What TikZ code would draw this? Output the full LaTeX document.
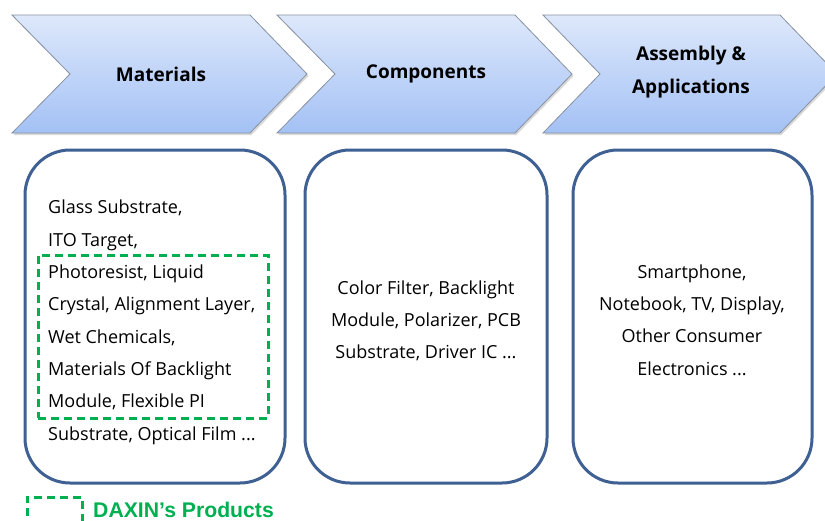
\documentclass[tikz,border=0pt]{standalone}
\usepackage{fontspec}
\setmainfont{Open Sans}
\newfontfamily\legendfont{Liberation Sans}
\usetikzlibrary{shadows}
\definecolor{boxblue}{RGB}{62,96,146}
\definecolor{daxgreen}{RGB}{0,176,80}
\definecolor{chtop}{RGB}{222,232,251}
\definecolor{chbot}{RGB}{163,193,245}
\definecolor{chedge}{RGB}{135,145,160}
\begin{document}
\begin{tikzpicture}[x=1pt,y=-1pt,
  chev/.style={draw=chedge, line width=0.8pt, top color=chtop, bottom color=chbot,
    drop shadow={opacity=0.3, shadow xshift=1.5pt, shadow yshift=-2pt}},
  title/.style={font=\fontsize{19}{33}\selectfont\bfseries, align=center, inner sep=0pt},
  roundbox/.style={draw=boxblue, line width=3pt, rounded corners=45pt, inner sep=0pt},
  body/.style={font=\fontsize{18}{32.3}\selectfont, inner sep=0pt},
  daxbox/.style={draw=daxgreen, line width=3pt, dash pattern=on 8pt off 5pt, inner sep=0pt}
]
\useasboundingbox (0,0) rectangle (825,520);
\clip (0,0) rectangle (825,520);
% chevrons
\path[chev] (12,15) -- (250,15) -- (307,74) -- (250,133) -- (12,133) -- (70,74) -- cycle;
\path[chev] (277,15) -- (515,15) -- (572,74) -- (515,133) -- (277,133) -- (335,74) -- cycle;
\path[chev] (543,15) -- (780,15) -- (837,74) -- (780,133) -- (543,133) -- (600,74) -- cycle;
\node[title] (t1) at (161,74) {Materials};
\node[title] (t2) at (426,74) {Components};
\node[title] (t3) at (691,72) {Assembly \&\\Applications};
% boxes
\node[roundbox, minimum width=260pt, minimum height=333pt] (box1) at (155,316.5) {};
\node[roundbox, minimum width=242pt, minimum height=333pt] (box2) at (426,316.5) {};
\node[roundbox, minimum width=239pt, minimum height=333pt] (box3) at (692.5,316.5) {};
\node[daxbox, minimum width=230pt, minimum height=163pt] (dax) at (153,336.5) {};
\node[body, align=left, anchor=base west] (txt1) at (48,440) {Glass Substrate,\\ITO Target,\\Photoresist, Liquid\\Crystal, Alignment Layer,\\Wet Chemicals,\\Materials Of Backlight\\Module, Flexible PI\\Substrate, Optical Film ...};
\node[body, align=center, anchor=base, font=\fontsize{18}{31.7}\selectfont] (txt2) at (426,358.3) {Color Filter, Backlight\\Module, Polarizer, PCB\\Substrate, Driver IC ...};
\node[body, align=center, anchor=base] (txt3) at (692,375) {Smartphone,\\Notebook, TV, Display,\\Other Consumer\\Electronics ...};
% legend
\node[daxbox, minimum width=55pt, minimum height=48pt] (legbox) at (54.5,521) {};
\node[anchor=west, inner sep=0pt, text=daxgreen, font=\legendfont\fontsize{21.2}{24}\selectfont\bfseries] (legtxt) at (93,510) {DAXIN’s Products};
\end{tikzpicture}
\end{document}
